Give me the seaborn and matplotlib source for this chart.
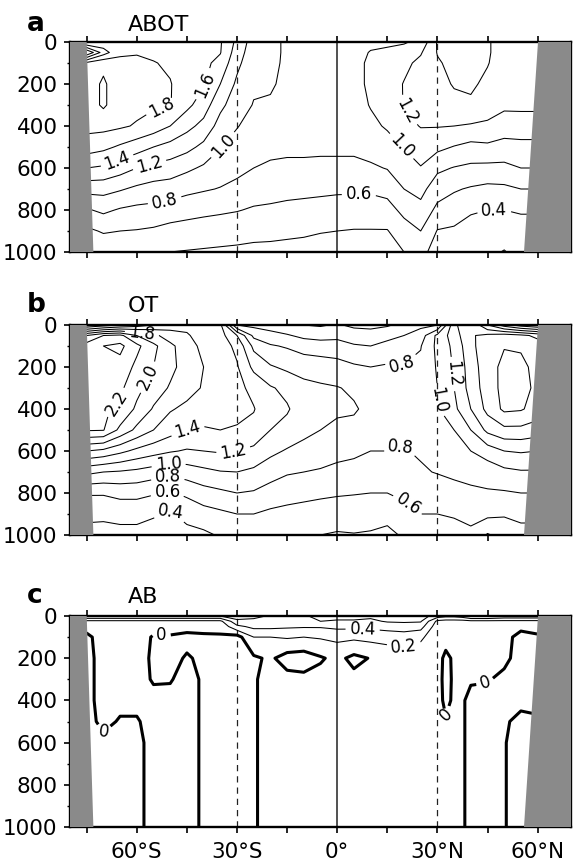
import numpy as np
import matplotlib
matplotlib.use("Agg")
import matplotlib.pyplot as plt
import seaborn as sns

sns.set_style("ticks")
plt.rcParams["font.family"] = ["DejaVu Sans"]
plt.rcParams["text.color"] = "black"
plt.rcParams["xtick.color"] = "black"
plt.rcParams["ytick.color"] = "black"

# grid the profiles are read on (one profile per latitude, values at `depths`)
lats = list(range(-80, 71, 5))
depths = [0, 50, 100, 200, 300, 400, 500, 600, 700, 800, 900, 1000]

# panel a: ABOT
abot = [
    [1.85, 1.00, 1.85, 1.90, 1.90, 1.86, 1.70, 1.40, 1.07, 0.78, 0.56, 0.38],  # -80
    [1.85, 1.00, 1.85, 1.90, 1.90, 1.86, 1.70, 1.40, 1.07, 0.78, 0.56, 0.38],  # -75
    [1.75, 1.50, 1.95, 2.03, 2.03, 1.86, 1.65, 1.37, 1.07, 0.84, 0.62, 0.45],  # -70
    [1.72, 1.78, 1.83, 1.88, 1.88, 1.83, 1.57, 1.29, 1.02, 0.78, 0.60, 0.45],  # -65
    [1.74, 1.79, 1.83, 1.87, 1.86, 1.78, 1.49, 1.20, 0.96, 0.75, 0.59, 0.45],  # -60
    [1.72, 1.76, 1.81, 1.84, 1.83, 1.71, 1.40, 1.14, 0.92, 0.74, 0.57, 0.44],  # -55
    [1.70, 1.73, 1.77, 1.81, 1.81, 1.60, 1.33, 1.11, 0.90, 0.71, 0.53, 0.40],  # -50
    [1.70, 1.71, 1.72, 1.70, 1.65, 1.46, 1.26, 1.04, 0.85, 0.68, 0.51, 0.39],  # -45
    [1.66, 1.66, 1.65, 1.62, 1.50, 1.34, 1.15, 0.97, 0.82, 0.65, 0.50, 0.38],  # -40
    [1.62, 1.61, 1.54, 1.40, 1.25, 1.12, 1.01, 0.90, 0.79, 0.63, 0.49, 0.37],  # -35
    [1.35, 1.30, 1.25, 1.16, 1.09, 1.01, 0.93, 0.85, 0.75, 0.61, 0.48, 0.36],  # -30
    [1.10, 1.08, 1.06, 1.03, 0.99, 0.93, 0.86, 0.80, 0.69, 0.58, 0.46, 0.35],  # -25
    [1.05, 1.05, 1.04, 1.02, 0.98, 0.91, 0.85, 0.77, 0.67, 0.57, 0.45, 0.35],  # -20
    [0.97, 0.97, 0.97, 0.96, 0.94, 0.90, 0.84, 0.76, 0.66, 0.55, 0.44, 0.34],  # -15
    [0.95, 0.95, 0.95, 0.95, 0.93, 0.89, 0.84, 0.76, 0.65, 0.54, 0.43, 0.33],  # -10
    [0.93, 0.93, 0.93, 0.93, 0.91, 0.88, 0.84, 0.75, 0.64, 0.53, 0.41, 0.32],  # -5
    [0.92, 0.92, 0.92, 0.92, 0.90, 0.87, 0.84, 0.75, 0.63, 0.52, 0.40, 0.31],  # 0
    [0.93, 0.94, 0.95, 0.95, 0.93, 0.89, 0.84, 0.75, 0.63, 0.51, 0.39, 0.30],  # 5
    [0.96, 1.01, 1.03, 1.03, 1.01, 0.96, 0.88, 0.77, 0.63, 0.51, 0.39, 0.30],  # 10
    [0.97, 1.03, 1.08, 1.10, 1.07, 1.02, 0.93, 0.81, 0.66, 0.53, 0.39, 0.30],  # 15
    [0.98, 1.08, 1.15, 1.21, 1.21, 1.13, 1.01, 0.90, 0.80, 0.65, 0.52, 0.40],  # 20
    [1.05, 1.18, 1.25, 1.30, 1.26, 1.21, 1.09, 0.99, 0.86, 0.74, 0.60, 0.47],  # 25
    [1.42, 1.41, 1.38, 1.32, 1.26, 1.21, 1.05, 0.84, 0.69, 0.55, 0.39, 0.30],  # 30
    [1.46, 1.46, 1.45, 1.42, 1.33, 1.20, 0.99, 0.79, 0.62, 0.50, 0.37, 0.28],  # 35
    [1.46, 1.46, 1.45, 1.43, 1.37, 1.18, 0.94, 0.76, 0.58, 0.43, 0.30, 0.25],  # 40
    [1.42, 1.42, 1.41, 1.36, 1.28, 1.17, 0.96, 0.75, 0.55, 0.40, 0.30, 0.24],  # 45
    [1.32, 1.32, 1.31, 1.28, 1.24, 1.10, 0.93, 0.75, 0.56, 0.40, 0.29, 0.19],  # 50
    [1.32, 1.32, 1.31, 1.28, 1.24, 1.11, 0.94, 0.80, 0.60, 0.42, 0.32, 0.26],  # 55
    [1.32, 1.32, 1.31, 1.28, 1.24, 1.11, 0.94, 0.80, 0.60, 0.42, 0.32, 0.26],  # 60
    [1.32, 1.32, 1.31, 1.28, 1.24, 1.11, 0.94, 0.80, 0.60, 0.42, 0.32, 0.26],  # 65
    [1.32, 1.32, 1.31, 1.28, 1.24, 1.11, 0.94, 0.80, 0.60, 0.42, 0.32, 0.26],  # 70
]

# panel b: OT
ot = [
    [1.00, 2.00, 2.30, 2.30, 2.25, 2.22, 2.22, 1.60, 1.05, 0.62, 0.45, 0.33],  # -80
    [1.00, 2.00, 2.30, 2.30, 2.25, 2.22, 2.22, 1.60, 1.05, 0.62, 0.45, 0.33],  # -75
    [1.10, 2.20, 2.40, 2.35, 2.26, 2.22, 2.21, 1.55, 1.00, 0.62, 0.44, 0.33],  # -70
    [1.20, 2.25, 2.45, 2.33, 2.24, 2.17, 1.95, 1.45, 0.98, 0.66, 0.46, 0.34],  # -65
    [1.30, 2.00, 2.25, 2.15, 2.06, 1.96, 1.75, 1.35, 0.95, 0.66, 0.46, 0.34],  # -60
    [1.40, 1.85, 2.05, 2.00, 1.90, 1.78, 1.60, 1.28, 0.90, 0.62, 0.42, 0.32],  # -55
    [1.50, 1.70, 1.85, 1.85, 1.78, 1.62, 1.48, 1.22, 0.85, 0.58, 0.38, 0.30],  # -50
    [1.55, 1.62, 1.68, 1.72, 1.68, 1.55, 1.40, 1.18, 0.90, 0.64, 0.46, 0.34],  # -45
    [1.50, 1.52, 1.55, 1.60, 1.58, 1.50, 1.38, 1.20, 0.95, 0.72, 0.52, 0.36],  # -40
    [1.45, 1.48, 1.50, 1.52, 1.50, 1.47, 1.40, 1.22, 0.99, 0.76, 0.56, 0.42],  # -35
    [0.60, 1.20, 1.35, 1.42, 1.45, 1.46, 1.38, 1.20, 1.00, 0.80, 0.60, 0.45],  # -30
    [0.55, 0.75, 0.95, 1.15, 1.35, 1.41, 1.35, 1.15, 0.96, 0.78, 0.60, 0.45],  # -25
    [0.50, 0.68, 0.82, 1.02, 1.22, 1.28, 1.20, 1.05, 0.88, 0.72, 0.56, 0.42],  # -20
    [0.45, 0.62, 0.78, 0.96, 1.15, 1.22, 1.14, 0.98, 0.82, 0.68, 0.54, 0.41],  # -15
    [0.40, 0.55, 0.72, 0.92, 1.06, 1.10, 1.05, 0.94, 0.80, 0.66, 0.52, 0.41],  # -10
    [0.38, 0.52, 0.70, 0.90, 1.03, 1.06, 1.00, 0.90, 0.78, 0.64, 0.50, 0.40],  # -5
    [0.42, 0.55, 0.68, 0.88, 1.01, 1.03, 0.96, 0.86, 0.75, 0.62, 0.50, 0.38],  # 0
    [0.36, 0.50, 0.62, 0.83, 0.97, 1.02, 0.95, 0.84, 0.73, 0.61, 0.50, 0.39],  # 5
    [0.35, 0.48, 0.60, 0.80, 0.92, 0.95, 0.90, 0.80, 0.70, 0.60, 0.48, 0.38],  # 10
    [0.38, 0.52, 0.68, 0.82, 0.88, 0.90, 0.86, 0.80, 0.70, 0.60, 0.45, 0.36],  # 15
    [0.45, 0.60, 0.72, 0.81, 0.85, 0.87, 0.84, 0.79, 0.72, 0.63, 0.55, 0.42],  # 20
    [0.55, 0.70, 0.79, 0.84, 0.86, 0.86, 0.84, 0.82, 0.78, 0.66, 0.60, 0.50],  # 25
    [0.60, 1.05, 1.05, 1.02, 1.00, 0.98, 0.93, 0.87, 0.81, 0.70, 0.60, 0.50],  # 30
    [1.35, 1.30, 1.25, 1.22, 1.20, 1.15, 1.00, 0.90, 0.83, 0.75, 0.62, 0.52],  # 35
    [1.60, 1.58, 1.55, 1.50, 1.48, 1.40, 1.20, 1.00, 0.85, 0.77, 0.64, 0.57],  # 40
    [1.20, 1.65, 1.72, 1.72, 1.70, 1.66, 1.45, 1.10, 0.88, 0.78, 0.65, 0.38],  # 45
    [0.90, 1.70, 1.79, 1.85, 1.86, 1.84, 1.55, 1.20, 0.95, 0.78, 0.62, 0.48],  # 50
    [0.70, 1.65, 1.78, 1.84, 1.86, 1.82, 1.55, 1.22, 0.98, 0.80, 0.66, 0.52],  # 55
    [0.60, 1.55, 1.70, 1.75, 1.76, 1.72, 1.50, 1.20, 0.98, 0.80, 0.66, 0.52],  # 60
    [0.60, 1.55, 1.70, 1.75, 1.76, 1.72, 1.50, 1.20, 0.98, 0.80, 0.66, 0.52],  # 65
    [0.60, 1.55, 1.70, 1.75, 1.76, 1.72, 1.50, 1.20, 0.98, 0.80, 0.66, 0.52],  # 70
]

# panel c: AB (finer grid near the surface and around 30-40N)
lats_ab = list(range(-80, 31, 5)) + [32.5, 35, 37.5, 40, 45, 50, 55, 60, 65, 70]
depths_ab = [0, 25, 50, 100, 200, 300, 400, 500, 600, 700, 800, 900, 1000]
ab = [
    [0.60, 0.15, 0.05, -0.03, -0.04, -0.04, -0.04, -0.04, -0.05, -0.05, -0.05, -0.05, -0.05],  # -80
    [0.60, 0.15, 0.05, -0.03, -0.04, -0.04, -0.04, -0.04, -0.05, -0.05, -0.05, -0.05, -0.05],  # -75
    [0.60, 0.15, 0.06, 0.06, 0.05, 0.05, 0.05, 0.03, -0.03, -0.05, -0.05, -0.05, -0.05],  # -70
    [0.60, 0.15, 0.06, 0.06, 0.06, 0.05, 0.03, -0.01, -0.04, -0.04, -0.04, -0.04, -0.04],  # -65
    [0.60, 0.15, 0.06, 0.05, 0.05, 0.04, 0.03, -0.01, -0.03, -0.03, -0.03, -0.03, -0.03],  # -60
    [0.60, 0.15, 0.04, -0.01, -0.02, -0.01, 0.03, 0.04, 0.04, 0.04, 0.04, 0.04, 0.04],  # -55
    [0.60, 0.15, 0.04, -0.01, -0.03, -0.01, 0.04, 0.05, 0.05, 0.05, 0.05, 0.05, 0.05],  # -50
    [0.60, 0.15, 0.04, -0.03, 0.01, 0.05, 0.05, 0.05, 0.05, 0.05, 0.05, 0.05, 0.05],  # -45
    [0.60, 0.15, 0.04, -0.02, -0.02, -0.02, -0.02, -0.02, -0.02, -0.02, -0.02, -0.02, -0.02],  # -40
    [0.60, 0.15, 0.05, -0.02, -0.04, -0.04, -0.04, -0.04, -0.04, -0.04, -0.04, -0.04, -0.04],  # -35
    [0.70, 0.55, 0.35, -0.08, -0.05, -0.05, -0.05, -0.05, -0.05, -0.05, -0.05, -0.05, -0.05],  # -30
    [0.65, 0.55, 0.45, 0.20, -0.03, -0.03, -0.03, -0.03, -0.03, -0.03, -0.03, -0.03, -0.03],  # -25
    [0.58, 0.55, 0.45, 0.20, 0.03, 0.10, 0.10, 0.10, 0.10, 0.10, 0.10, 0.10, 0.10],  # -20
    [0.56, 0.55, 0.43, 0.22, -0.08, 0.06, 0.08, 0.08, 0.08, 0.08, 0.08, 0.08, 0.08],  # -15
    [0.58, 0.56, 0.42, 0.20, -0.10, 0.05, 0.08, 0.08, 0.08, 0.08, 0.08, 0.08, 0.08],  # -10
    [0.65, 0.60, 0.42, 0.22, -0.02, 0.06, 0.08, 0.08, 0.08, 0.08, 0.08, 0.08, 0.08],  # -5
    [0.66, 0.58, 0.45, 0.25, 0.05, 0.06, 0.08, 0.08, 0.08, 0.08, 0.08, 0.08, 0.08],  # 0
    [0.66, 0.58, 0.45, 0.24, -0.05, 0.05, 0.08, 0.08, 0.08, 0.08, 0.08, 0.08, 0.08],  # 5
    [0.64, 0.56, 0.45, 0.26, 0.01, 0.06, 0.08, 0.08, 0.08, 0.08, 0.08, 0.08, 0.08],  # 10
    [0.68, 0.62, 0.48, 0.28, 0.06, 0.08, 0.08, 0.08, 0.08, 0.08, 0.08, 0.08, 0.08],  # 15
    [0.68, 0.63, 0.50, 0.30, 0.08, 0.08, 0.08, 0.08, 0.08, 0.08, 0.08, 0.08, 0.08],  # 20
    [0.70, 0.62, 0.48, 0.24, 0.06, 0.07, 0.07, 0.07, 0.07, 0.07, 0.07, 0.07, 0.07],  # 25
    [0.50, 0.15, 0.08, 0.06, 0.05, 0.05, 0.05, 0.05, 0.05, 0.05, 0.05, 0.05, 0.05],  # 30
    [0.45, 0.12, 0.06, 0.05, -0.03, -0.04, -0.03, 0.01, 0.05, 0.05, 0.05, 0.05, 0.05],  # 32.5
    [0.45, 0.12, 0.06, 0.05, 0.02, 0.02, 0.02, 0.03, 0.03, 0.03, 0.03, 0.03, 0.03],  # 35
    [0.50, 0.12, 0.06, 0.05, 0.04, 0.03, 0.02, 0.02, 0.02, 0.02, 0.02, 0.02, 0.02],  # 37.5
    [0.63, 0.15, 0.06, 0.05, 0.04, 0.02, -0.05, -0.05, -0.05, -0.05, -0.05, -0.05, -0.05],  # 40
    [0.63, 0.15, 0.06, 0.05, 0.04, 0.01, -0.05, -0.05, -0.05, -0.05, -0.05, -0.05, -0.05],  # 45
    [0.55, 0.15, 0.05, 0.04, 0.03, -0.03, -0.03, -0.02, -0.01, -0.01, -0.01, -0.01, -0.01],  # 50
    [0.55, 0.15, 0.03, -0.04, -0.05, -0.05, -0.04, 0.04, 0.07, 0.07, 0.07, 0.07, 0.07],  # 55
    [0.55, 0.15, 0.05, -0.02, -0.05, -0.05, -0.04, 0.02, 0.07, 0.07, 0.07, 0.07, 0.07],  # 60
    [0.55, 0.15, 0.05, -0.02, -0.05, -0.05, -0.04, 0.02, 0.07, 0.07, 0.07, 0.07, 0.07],  # 65
    [0.55, 0.15, 0.05, -0.02, -0.05, -0.05, -0.04, 0.02, 0.07, 0.07, 0.07, 0.07, 0.07],  # 70
]

# land mask outline (lat, depth)
land_south_lat = [-80, -75, -73, -80]
land_south_dep = [0, 0, 1000, 1000]
land_north_lat = [60, 70, 70, 56]
land_north_dep = [0, 0, 1000, 1000]

# where the contour labels sit
abot_label_pos = [(-52, 346), (-40, 200), (-65.6, 578), (-56.6, 562), (-33, 506),
                  (-51.6, 760), (21, 325), (19, 500), (6.5, 722), (47, 794)]
ot_label_pos = [(-58.5, 45), (-57, 246), (-65, 389), (-45, 484), (-31, 610),
                (-50.7, 643), (-51, 698), (-51, 778), (-50, 881), (19.5, 183),
                (33.5, 235), (29.5, 360), (19.5, 611), (21, 857)]
ab_zero_pos = [(-69.3, 567), (-52.6, 94), (44.4, 321), (35, 480)]
ab_thin_pos = [(7.6, 83), (20, 146)]

tick_lats = [-75, -60, -45, -30, -15, 0, 15, 30, 45, 60]
tick_text = ['', '60°S', '', '30°S', '', '0°', '', '30°N', '', '60°N']
depth_ticks = [0, 200, 400, 600, 800, 1000]

W, H = 573, 868
fig = plt.figure(figsize=(W / 100, H / 100), dpi=100)


def px_axes(left, top, right, bottom):
    return fig.add_axes([left / W, 1 - bottom / H, (right - left) / W, (bottom - top) / H])


ax_a = px_axes(70, 42, 571, 252)
ax_b = px_axes(70, 325, 571, 535)
ax_c = px_axes(70, 616, 571, 827)


def setup(ax, show_x):
    ax.set_xlim(-80, 70)
    ax.set_ylim(1000, 0)
    ax.set_xticks(tick_lats)
    ax.set_xticklabels(tick_text if show_x else [''] * len(tick_lats))
    ax.set_yticks(depth_ticks)
    ax.set_yticks(range(100, 1000, 200), minor=True)
    ax.tick_params(axis='both', which='major', direction='out', length=4, width=1.2,
                   labelsize=15.5, top=True, pad=5, colors='black')
    ax.tick_params(axis='x', pad=7)
    ax.tick_params(axis='y', which='minor', direction='out', length=2.5, width=1,
                   colors='black')
    for sp in ax.spines.values():
        sp.set_linewidth(1.7)
        sp.set_color('black')
    ax.axvline(0, color='#222222', lw=1.1, zorder=2)
    ax.axvline(-30, color='#222222', lw=0.9, ls=(0, (5, 4)), zorder=2)
    ax.axvline(30, color='#222222', lw=0.9, ls=(0, (5, 4)), zorder=2)
    ax.fill(land_south_lat, land_south_dep, color='#8a8a8a', lw=0, zorder=4)
    ax.fill(land_north_lat, land_north_dep, color='#8a8a8a', lw=0, zorder=4)


for ax, show in [(ax_a, False), (ax_b, False), (ax_c, True)]:
    setup(ax, show)

lbl_kw = dict(fontsize=12, inline=True, inline_spacing=4)

za = np.array(abot).T
cs_a = ax_a.contour(lats, depths, za, levels=np.round(np.arange(0.2, 2.3, 0.2), 1),
                    colors='black', linewidths=0.75)
ax_a.clabel(cs_a, fmt='%.1f', manual=abot_label_pos, **lbl_kw)

zb = np.array(ot).T
cs_b = ax_b.contour(lats, depths, zb, levels=np.round(np.arange(0.2, 2.5, 0.2), 1),
                    colors='black', linewidths=0.75)
ax_b.clabel(cs_b, fmt='%.1f', manual=ot_label_pos, **lbl_kw)

zc = np.array(ab).T
cs_c = ax_c.contour(lats_ab, depths_ab, zc, levels=[0.2, 0.4, 0.6],
                    colors='black', linewidths=0.75)
cs_c0 = ax_c.contour(lats_ab, depths_ab, zc, levels=[0.0],
                     colors='black', linewidths=2.2)
ax_c.clabel(cs_c, fmt='%.1f', manual=ab_thin_pos, **lbl_kw)
ax_c.clabel(cs_c0, fmt=lambda v: '0', manual=ab_zero_pos, **lbl_kw)

for ax in (ax_a, ax_b, ax_c):
    ax.set_xlim(-80, 70)
    ax.set_ylim(1000, 0)

# panel letters and titles
for letter, title, base in [('a', 'ABOT', 31), ('b', 'OT', 312), ('c', 'AB', 603)]:
    fig.text(27 / W, 1 - base / H, letter, fontsize=19, fontweight='bold',
             va='baseline', color='black')
    fig.text(128 / W, 1 - base / H, title, fontsize=16, va='baseline', color='black')

fig.savefig('out.png', dpi=100)
